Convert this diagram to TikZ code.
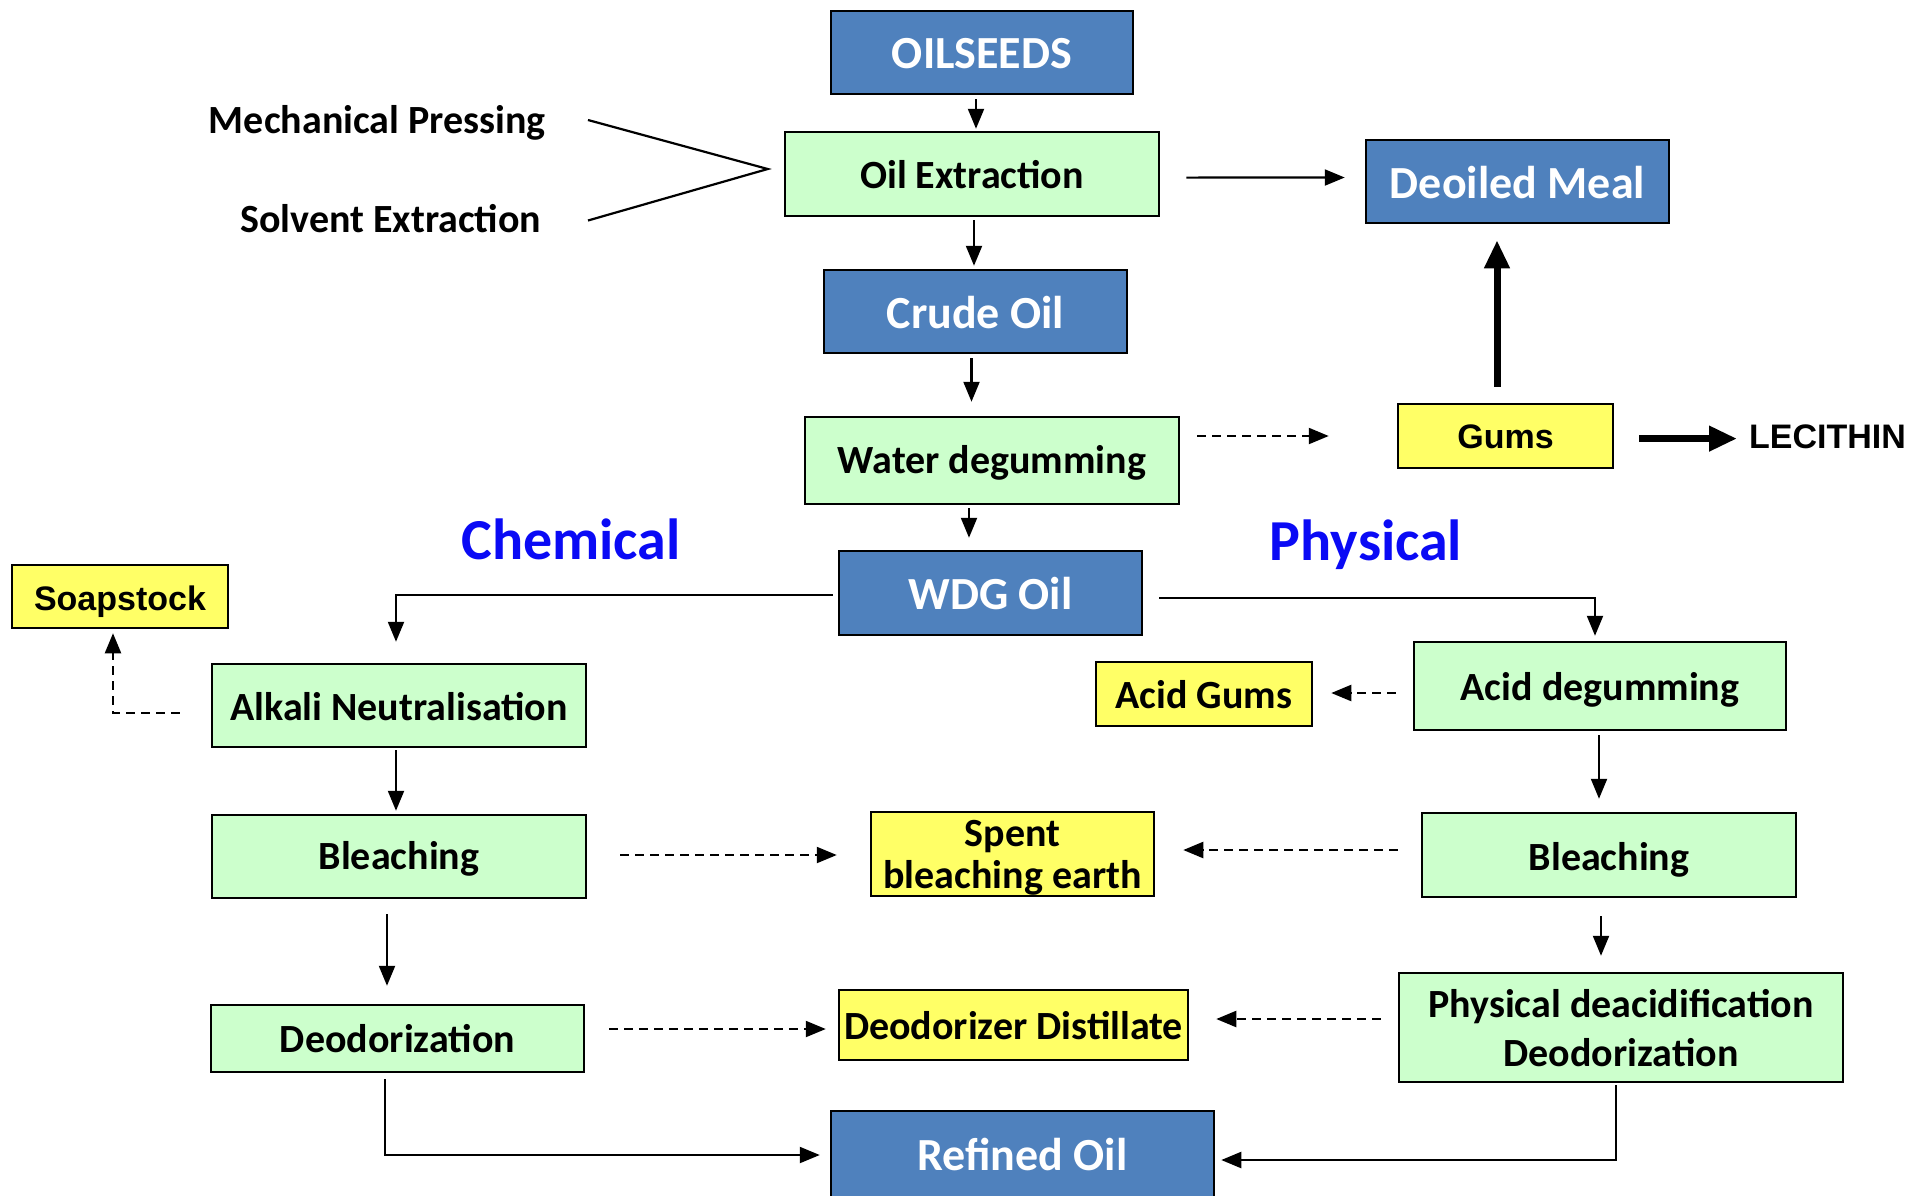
\documentclass[tikz,border=0pt]{standalone}
\usepackage{fontspec}
\setmainfont{Carlito}
\newfontfamily\arialf{Liberation Sans}
\usetikzlibrary{arrows.meta,calc}
\definecolor{boxblue}{RGB}{79,129,189}
\definecolor{boxgreen}{RGB}{204,255,204}
\definecolor{boxyellow}{RGB}{255,255,102}
\definecolor{titleblue}{RGB}{10,10,245}
\newcommand{\lowtxt}[2]{\raisebox{-#1pt}[\height][\depth]{#2}}
\begin{document}
\begin{tikzpicture}[x=1pt,y=-1pt,
  base/.style={draw=black,line width=2.5pt,inner sep=0pt,align=center},
  bluebox/.style={base,fill=boxblue,text=white,font=\bfseries\fontsize{46}{52}\selectfont},
  greenbox/.style={base,fill=boxgreen,font=\bfseries\fontsize{40}{42}\selectfont},
  yellowbox/.style={base,fill=boxyellow,font=\bfseries\fontsize{40}{42}\selectfont},
  yellowarial/.style={base,fill=boxyellow,font=\arialf\bfseries\fontsize{34}{40}\selectfont},
  plain/.style={inner sep=0pt,font=\bfseries\fontsize{40}{46}\selectfont},
  title/.style={inner sep=0pt,text=titleblue,font=\bfseries\fontsize{58}{64}\selectfont},
  arr/.style={line width=2.2pt,-{Triangle[length=20pt,width=16pt]}},
  darr/.style={arr,dash pattern=on 9pt off 6pt},
  bigarr/.style={line width=7pt,-{Triangle[length=28pt,width=24pt]}},
  link/.style={line width=2.2pt}]
\useasboundingbox (0,0) rectangle (1921,1195);
\clip (0,0) rectangle (1921,1195);

% nodes
\node[bluebox,minimum width=302pt,minimum height=83pt] (oilseeds) at (982,52.5) {\lowtxt{1}{OILSEEDS}};
\node[greenbox,minimum width=374pt,minimum height=84pt] (oilext) at (972,174) {\lowtxt{1}{Oil Extraction}};
\node[bluebox,minimum width=303pt,minimum height=83pt] (deoiled) at (1517.5,181.5) {\lowtxt{1}{Deoiled Meal}};
\node[bluebox,minimum width=303pt,minimum height=83pt] (crude) at (975.5,311.5) {\lowtxt{1}{Crude Oil}};
\node[greenbox,minimum width=374pt,minimum height=87pt] (water) at (992,460.5) {\lowtxt{2.5}{Water degumming}};
\node[yellowarial,minimum width=215pt,minimum height=64pt] (gums) at (1505.5,436) {\lowtxt{1}{Gums}};
\node[inner sep=0pt,anchor=west,font=\arialf\bfseries\fontsize{34}{40}\selectfont] (lecithin) at (1749,437) {LECITHIN};
\node[bluebox,minimum width=303pt,minimum height=84pt] (wdg) at (990.5,593) {\lowtxt{1}{WDG Oil}};
\node[title] (chem) at (571,539) {Chemical};
\node[title] (phystitle) at (1366,545) {Physical};
\node[yellowarial,minimum width=216pt,minimum height=63pt] (soap) at (120,596.5) {\lowtxt{5}{Soapstock}};
\node[greenbox,minimum width=374pt,minimum height=83pt] (alkali) at (399,705.5) {\lowtxt{1}{Alkali Neutralisation}};
\node[yellowbox,minimum width=216pt,minimum height=64pt] (acidgums) at (1204,694) {\lowtxt{1}{Acid Gums}};
\node[greenbox,minimum width=372pt,minimum height=88pt] (aciddeg) at (1600,686) {\lowtxt{4}{Acid degumming}};
\node[greenbox,minimum width=374pt,minimum height=83pt] (bleachL) at (399,856.5) {\lowtxt{2.5}{Bleaching}};
\node[yellowbox,minimum width=283pt,minimum height=84pt] (spent) at (1012.5,854) {\lowtxt{5}{\begin{tabular}{@{}c@{}}Spent\\bleaching earth\end{tabular}}};
\node[greenbox,minimum width=374pt,minimum height=84pt] (bleachR) at (1609,855) {\lowtxt{5}{Bleaching}};
\node[greenbox,minimum width=373pt,minimum height=67pt] (deodL) at (397.5,1038.5) {Deodorization};
\node[yellowbox,minimum width=349pt,minimum height=70pt] (distil) at (1013.5,1025) {\lowtxt{1}{Deodorizer Distillate}};
\node[greenbox,minimum width=444pt,minimum height=109pt,font=\bfseries\fontsize{40}{49}\selectfont] (phys) at (1621,1027.5) {\lowtxt{5}{\begin{tabular}{@{}c@{}}Physical deacidification\\Deodorization\end{tabular}}};
\node[bluebox,minimum width=383pt,minimum height=86pt] (refined) at (1022.5,1154) {Refined Oil};
\node[plain,anchor=east] (mech) at (546,123) {Mechanical Pressing};
\node[plain,anchor=east] (solv) at (541.5,219) {Solvent Extraction};

% connectors
\draw[link] ($(mech.east)+(42,-3)$) -- ($(oilext.west)+(-16,-5)$) -- ($(solv.east)+(46.5,1.5)$);
\draw[arr] ($(oilseeds.south)+(-6,4)$) -- ($(oilext.north)+(4,-2)$);
\draw[arr] ($(oilext.south)+(2,3)$) -- ($(crude.north)+(-1.5,-3)$);
\draw[arr] ($(crude.south)+(-4,4)$) -- ($(water.north)+(-20.5,-14)$);
\draw[arr] ($(water.south)+(-23,3)$) -- ($(wdg.north)+(-21.5,-12)$);
\draw[arr] ($(oilext.east)+(26,3.6)$) -- ($(deoiled.west)+(-20,-4)$);
\draw[darr] ($(water.east)+(17,-24.5)$) -- ($(gums.west)+(-68,0)$);
\draw[bigarr] ($(gums.north)+(-8.5,-16)$) -- ($(deoiled.south)+(-20.5,16)$);
\draw[bigarr] ($(gums.east)+(25,2.6)$) -- ($(lecithin.west)+(-12,1.6)$);
\draw[arr] ($(wdg.west)+(-5,2)$) -| ($(alkali.north)+(-3,-21)$);
\draw[arr] ($(wdg.east)+(16,5)$) -| ($(aciddeg.north)+(-5,-5)$);
\draw[darr] ($(alkali.west)+(-31,7.5)$) -| ($(soap.south)+(-7,4)$);
\draw[darr] ($(aciddeg.west)+(-17,7)$) -- ($(acidgums.east)+(18,-1)$);
\draw[arr] ($(alkali.south)+(-3,2)$) -- ($(bleachL.north)+(-3,-3)$);
\draw[arr] ($(aciddeg.south)+(-1,4)$) -- ($(bleachR.north)+(-10,-13)$);
\draw[darr] ($(bleachL.east)+(33,-1.5)$) -- ($(spent.west)+(-33,1)$);
\draw[darr] ($(bleachR.west)+(-23,-5)$) -- ($(spent.east)+(28,-4)$);
\draw[arr] ($(bleachL.south)+(-12,15)$) -- ($(deodL.north)+(-10.5,-18)$);
\draw[arr] ($(bleachR.south)+(-8,18)$) -- ($(phys.north)+(-20,-16)$);
\draw[darr] ($(deodL.east)+(24,-9.5)$) -- ($(distil.west)+(-12,4)$);
\draw[darr] ($(phys.west)+(-17,-8.5)$) -- ($(distil.east)+(27,-6)$);
\draw[arr] ($(deodL.south)+(-12.5,6)$) |- ($(refined.west)+(-10,1)$);
\draw[arr] ($(phys.south)+(-5,2)$) |- ($(refined.east)+(6,6)$);
\end{tikzpicture}
\end{document}
